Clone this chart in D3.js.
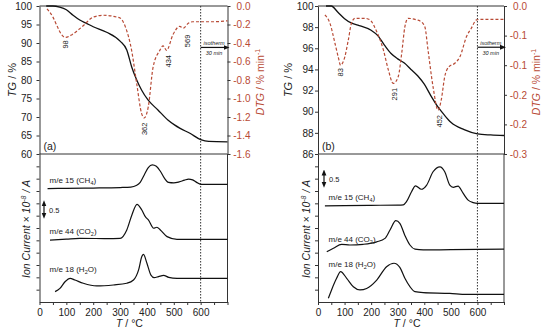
<!DOCTYPE html>
<html>
<head>
<meta charset="utf-8">
<title>TG / DTG / MS</title>
<script src="https://cdn.jsdelivr.net/npm/d3@7"></script>
<style>
body { margin: 0; background: #fff; }
text { font-family: "Liberation Sans", Arial, sans-serif; fill: #222; }
.dtg-text { fill: #b84a35; }
</style>
</head>
<body>
<div id="chart"></div>
<script>
// ---- panel (a) ----
var tgA_T  = [25, 50, 75, 100, 125, 150, 175, 200, 250, 300, 325, 343, 362, 380, 404, 441, 478, 504, 522, 560, 600, 630, 700];
var tgA    = [100, 100, 99.7, 99.0, 97.5, 96.2, 95.3, 94.4, 92.9, 90.5, 88.1, 83.6, 80.0, 77.3, 74.6, 71.9, 69.2, 67.8, 67.0, 65.6, 63.9, 63.4, 63.3];
var dtgA_T = [28, 50, 66, 80, 96, 121, 140, 164, 200, 238, 288, 300, 319, 343, 362, 380, 390, 405, 423, 448, 460, 473, 497, 522, 535, 553, 571, 600, 650, 700];
var dtgA   = [-0.03, -0.12, -0.22, -0.30, -0.34, -0.31, -0.27, -0.21, -0.12, -0.10, -0.12, -0.13, -0.22, -0.48, -0.84, -1.16, -1.21, -1.09, -0.66, -0.48, -0.43, -0.48, -0.31, -0.22, -0.24, -0.19, -0.17, -0.17, -0.17, -0.16];
var ch4A_T = [30, 100, 200, 300, 340, 360, 375, 390, 405, 420, 435, 450, 465, 480, 500, 520, 540, 555, 570, 585, 600, 700];
var ch4A   = [4.60, 4.61, 4.62, 4.64, 4.66, 4.72, 4.85, 5.15, 5.45, 5.56, 5.50, 5.30, 5.02, 4.85, 4.83, 4.87, 4.94, 4.98, 4.95, 4.85, 4.77, 4.77];
var co2A_T = [39, 100, 150, 250, 300, 325, 344, 363, 381, 394, 406, 425, 437, 450, 475, 512, 600, 700];
var co2A   = [2.51, 2.55, 2.58, 2.57, 2.58, 2.92, 3.53, 3.96, 3.73, 3.46, 3.32, 2.99, 3.03, 2.92, 2.65, 2.54, 2.54, 2.54];
var h2oA_T = [58, 76, 95, 114, 132, 163, 213, 275, 325, 350, 369, 381, 387, 400, 415, 427, 443, 462, 481, 512, 600, 700];
var h2oA   = [0.42, 0.55, 0.82, 0.96, 0.89, 0.76, 0.65, 0.69, 0.76, 0.89, 1.30, 1.84, 1.93, 1.57, 1.09, 0.99, 1.03, 1.08, 1.00, 0.96, 0.96, 0.96];
var peakA_lbl = ["98", "362", "434", "569"];
var peakA_T   = [95, 391, 480, 549];
var peakA_dtg = [-0.37, -1.26, -0.53, -0.31];

// ---- panel (b) ----
var tgB_T  = [30, 50, 75, 100, 125, 150, 200, 225, 250, 275, 300, 325, 350, 375, 400, 425, 450, 475, 500, 550, 600, 650, 700];
var tgB    = [100, 100, 99.4, 98.8, 98.4, 98.2, 97.7, 97.2, 96.3, 95.5, 95.0, 94.6, 94.0, 93.4, 92.6, 91.5, 90.5, 89.7, 89.0, 88.3, 87.9, 87.8, 87.75];
var dtgB_T = [26, 45, 64, 76, 85, 101, 114, 126, 139, 177, 195, 221, 246, 265, 283, 302, 315, 327, 339, 371, 383, 402, 414, 433, 452, 464, 477, 493, 515, 534, 559, 577, 597, 615, 700];
var dtgB   = [-0.018, -0.035, -0.076, -0.103, -0.12, -0.103, -0.069, -0.035, -0.025, -0.025, -0.028, -0.052, -0.089, -0.13, -0.157, -0.143, -0.096, -0.042, -0.025, -0.028, -0.03, -0.042, -0.089, -0.164, -0.211, -0.19, -0.143, -0.123, -0.116, -0.103, -0.062, -0.045, -0.028, -0.027, -0.027];
var ch4B_T = [26, 100, 200, 300, 321, 333, 352, 367, 389, 409, 433, 459, 477, 496, 509, 527, 546, 565, 584, 600, 700];
var ch4B   = [3.90, 3.91, 3.92, 3.93, 3.94, 4.07, 4.47, 4.71, 4.57, 4.74, 5.28, 5.48, 5.28, 4.74, 4.65, 4.70, 4.41, 4.13, 4.03, 4.00, 4.00];
var co2B_T = [33, 58, 89, 120, 170, 221, 252, 271, 293, 308, 327, 346, 365, 396, 500, 700];
var co2B   = [2.04, 2.18, 2.34, 2.31, 2.34, 2.44, 2.58, 2.92, 3.30, 3.19, 2.70, 2.31, 2.14, 2.11, 2.12, 2.14];
var h2oB_T = [39, 51, 70, 85, 108, 133, 158, 183, 221, 258, 286, 308, 327, 346, 365, 396, 496, 559, 700];
var h2oB   = [0.15, 0.49, 0.96, 1.23, 0.96, 0.62, 0.49, 0.55, 0.89, 1.43, 1.57, 1.40, 0.96, 0.62, 0.42, 0.38, 0.35, 0.31, 0.31];
var peakB_lbl = ["83", "291", "452"];
var peakB_T   = [85, 286, 456];
var peakB_dtg = [-0.126, -0.166, -0.221];

// ---- ticks ----
var tgTicksA  = [60, 65, 70, 75, 80, 85, 90, 95, 100];
var tgTicksB  = [86, 88, 90, 92, 94, 96, 98, 100];
var dtgTicksA = [0, -0.2, -0.4, -0.6, -0.8, -1.0, -1.2, -1.4, -1.6];
var dtgLblA   = ["0.0", "-0.2", "-0.4", "-0.6", "-0.8", "-1.0", "-1.2", "-1.4", "-1.6"];
var dtgTicksB = [0, -0.06, -0.12, -0.18, -0.24, -0.3];
var dtgLblB   = ["0.0", "-0.1", "-0.1", "-0.2", "-0.2", "-0.3"];
var tTicks    = [0, 50, 100, 150, 200, 250, 300, 350, 400, 450, 500, 550, 600, 650, 700];
var tLabels   = [0, 100, 200, 300, 400, 500, 600];
var ionTicks  = [0.5, 1, 1.5, 2, 2.5, 3, 3.5, 4, 4.5, 5, 5.5];

var W = 550, H = 336;
var DTG_COL = "#b84a35";
var svg = d3.select("#chart").append("svg").attr("width", W).attr("height", H);

var defs = svg.append("defs");
function marker(id, path) {
    defs.append("marker").attr("id", id).attr("viewBox", "0 0 10 10")
        .attr("refX", 5).attr("refY", 5).attr("markerWidth", 5).attr("markerHeight", 5)
        .attr("orient", "auto-start-reverse")
        .append("path").attr("d", path).attr("fill", "#111");
}
marker("arr", "M0,1 L10,5 L0,9 Z");

function drawPanel(p) {
    var x = d3.scaleLinear().domain([0, 700]).range([p.x0, p.x1]);
    var yTG = d3.scaleLinear().domain(p.tgDom).range([154, 6]);
    var yDTG = d3.scaleLinear().domain(p.dtgDom).range([154, 6]);
    var yIon = d3.scaleLinear().domain([0, 6]).range([302, 154]);
    var g = svg.append("g");

    // axes
    var aL = g.append("g").attr("transform", "translate(" + p.x0 + ",0)")
        .call(d3.axisLeft(yTG).tickValues(p.tgTicks).tickSize(3).tickSizeOuter(0).tickPadding(p.padL));
    var aR = g.append("g").attr("transform", "translate(" + p.x1 + ",0)")
        .call(d3.axisRight(yDTG).tickValues(p.dtgTicks).tickFormat(function(d, i) { return p.dtgLbl[i]; })
            .tickSize(3).tickSizeOuter(0).tickPadding(0));
    aR.selectAll("text").attr("text-anchor", "end").attr("x", 23).attr("class", "dtg-text");
    var aI = g.append("g").attr("transform", "translate(" + p.x0 + ",0)")
        .call(d3.axisLeft(yIon).tickValues(ionTicks).tickFormat("").tickSize(3).tickSizeOuter(0));
    var aB = g.append("g").attr("transform", "translate(0,302)")
        .call(d3.axisBottom(x).tickValues(tTicks)
            .tickFormat(function(d) { return tLabels.indexOf(d) >= 0 ? d : ""; })
            .tickSize(3).tickSizeOuter(0).tickPadding(4));
    [aL, aR, aI, aB].forEach(function(a) {
        a.selectAll("path, line").attr("stroke", "#333");
        a.selectAll("text").attr("font-size", 10).style("font-family", '"Liberation Sans", Arial, sans-serif');
    });
    aR.selectAll("text").attr("fill", DTG_COL);
    aL.selectAll("text").attr("fill", "#222");
    aB.selectAll("text").attr("fill", "#222");

    // frame lines
    g.append("line").attr("x1", p.x0).attr("x2", p.x1).attr("y1", 6).attr("y2", 6).attr("stroke", "#333");
    g.append("line").attr("x1", p.x0).attr("x2", p.x1).attr("y1", 154).attr("y2", 154).attr("stroke", "#333");
    g.append("line").attr("x1", p.x1).attr("x2", p.x1).attr("y1", 154).attr("y2", 302).attr("stroke", "#333");

    // isotherm marker
    g.append("line").attr("x1", x(600)).attr("x2", x(600)).attr("y1", 6).attr("y2", 302)
        .attr("stroke", "#333").attr("stroke-width", 1).attr("stroke-dasharray", "1.5,1.5");
    var yIso = yTG(p.isoTG);
    g.append("line").attr("x1", x(600)).attr("x2", x(700) - 1).attr("y1", yIso).attr("y2", yIso)
        .attr("stroke", "#111").attr("stroke-width", 1.2).attr("marker-end", "url(#arr)");
    g.append("text").attr("x", x(650)).attr("y", yIso - 2.5).attr("text-anchor", "middle")
        .attr("font-size", 5.5).attr("font-style", "italic").text("isotherm");
    g.append("text").attr("x", x(650)).attr("y", yIso + 7.5).attr("text-anchor", "middle")
        .attr("font-size", 5.5).attr("font-style", "italic").text("30 min");

    // curves
    var lineTG = d3.line().x(function(d) { return x(d[0]); }).y(function(d) { return yTG(d[1]); }).curve(d3.curveMonotoneX);
    var lineDTG = d3.line().x(function(d) { return x(d[0]); }).y(function(d) { return yDTG(d[1]); }).curve(d3.curveMonotoneX);
    var lineIon = d3.line().x(function(d) { return x(d[0]); }).y(function(d) { return yIon(d[1]); }).curve(d3.curveMonotoneX);
    g.append("path").datum(d3.zip(p.tgT, p.tg)).attr("d", lineTG)
        .attr("fill", "none").attr("stroke", "#111").attr("stroke-width", 1.3);
    g.append("path").datum(d3.zip(p.dtgT, p.dtg)).attr("d", lineDTG)
        .attr("fill", "none").attr("stroke", DTG_COL).attr("stroke-width", 1.2).attr("stroke-dasharray", "3,2");
    p.ion.forEach(function(s) {
        g.append("path").datum(d3.zip(s[0], s[1])).attr("d", lineIon)
            .attr("fill", "none").attr("stroke", "#111").attr("stroke-width", 1.2);
    });

    // peak labels
    p.peakLbl.forEach(function(t, i) {
        g.append("text").attr("transform", "translate(" + x(p.peakT[i]) + "," + yDTG(p.peakDTG[i]) + ") rotate(-90)")
            .attr("text-anchor", "end").attr("dy", "0.35em").attr("font-size", 7.5).text(t);
    });

    // panel letter
    g.append("text").attr("x", p.x0 + 4).attr("y", 150).attr("font-size", 10.5).text(p.letter);

    // axis titles
    var t1 = g.append("text").attr("transform", "translate(" + p.tgTitleX + ",80) rotate(-90)")
        .attr("text-anchor", "middle").attr("font-size", 11);
    t1.append("tspan").attr("font-style", "italic").text("TG");
    t1.append("tspan").text(" / %");
    var t2 = g.append("text").attr("transform", "translate(" + (p.x1 + 36) + ",82) rotate(-90)")
        .attr("text-anchor", "middle").attr("font-size", 10.5).attr("class", "dtg-text");
    t2.append("tspan").attr("font-style", "italic").text("DTG");
    t2.append("tspan").text(" / % min");
    t2.append("tspan").attr("dy", -4).attr("font-size", 7).text("-1");
    var t3 = g.append("text").attr("transform", "translate(" + p.ionTitleX + ",229) rotate(-90)")
        .attr("text-anchor", "middle").attr("font-size", 10.5).attr("font-style", "italic");
    t3.append("tspan").text("Ion Current \u00d7 10");
    t3.append("tspan").attr("dy", -4).attr("font-size", 7).text("-8");
    t3.append("tspan").attr("dy", 4).text(" / A");
    var t4 = g.append("text").attr("x", x(335)).attr("y", 327).attr("text-anchor", "middle").attr("font-size", 10.5);
    t4.append("tspan").attr("font-style", "italic").text("T");
    t4.append("tspan").text(" / \u00b0C");

    // ion labels
    p.ionLbl.forEach(function(l) {
        var t = g.append("text").attr("x", p.x0 + p.lblDx).attr("y", l.y).attr("font-size", 8);
        t.append("tspan").text(l.a);
        t.append("tspan").attr("dy", 2).attr("font-size", 5.5).text(l.sub);
        t.append("tspan").attr("dy", -2).text(l.b);
    });

    // scale bar 0.5
    g.append("line").attr("x1", p.x0 + p.barDx).attr("x2", p.x0 + p.barDx)
        .attr("y1", yIon(p.barV)).attr("y2", yIon(p.barV + 0.5))
        .attr("stroke", "#111").attr("stroke-width", 1.2)
        .attr("marker-start", "url(#arr)").attr("marker-end", "url(#arr)");
    g.append("text").attr("x", p.x0 + p.barDx + 5).attr("y", yIon(p.barV + 0.25) + 3)
        .attr("font-size", 7.5).text("0.5");
}

drawPanel({
    x0: 39.5, x1: 227.5, letter: "(a)", padL: 4.5, tgTitleX: 16, ionTitleX: 30,
    tgDom: [60, 100], tgTicks: tgTicksA, dtgDom: [-1.6, 0], dtgTicks: dtgTicksA, dtgLbl: dtgLblA,
    tgT: tgA_T, tg: tgA, dtgT: dtgA_T, dtg: dtgA,
    ion: [[ch4A_T, ch4A], [co2A_T, co2A], [h2oA_T, h2oA]],
    peakLbl: peakA_lbl, peakT: peakA_T, peakDTG: peakA_dtg,
    isoTG: 88.8, lblDx: 10, barDx: 4.5, barV: 3.5,
    ionLbl: [{a: "m/e 15 (CH", sub: "4", b: ")", y: 182.5},
             {a: "m/e 44 (CO", sub: "2", b: ")", y: 233.5},
             {a: "m/e 18 (H", sub: "2", b: "O)", y: 271.5}]
});

drawPanel({
    x0: 318, x1: 504, letter: "(b)", padL: 1.5, tgTitleX: 292, ionTitleX: 310,
    tgDom: [86, 100], tgTicks: tgTicksB, dtgDom: [-0.3, 0], dtgTicks: dtgTicksB, dtgLbl: dtgLblB,
    tgT: tgB_T, tg: tgB, dtgT: dtgB_T, dtg: dtgB,
    ion: [[ch4B_T, ch4B], [co2B_T, co2B], [h2oB_T, h2oB]],
    peakLbl: peakB_lbl, peakT: peakB_T, peakDTG: peakB_dtg,
    isoTG: 96.1, lblDx: 10.5, barDx: 6, barV: 4.75,
    ionLbl: [{a: "m/e 15 (CH", sub: "4", b: ")", y: 199.5},
             {a: "m/e 44 (CO", sub: "2", b: ")", y: 241.5},
             {a: "m/e 18 (H", sub: "2", b: "O)", y: 266.5}]
});
</script>
</body>
</html>
